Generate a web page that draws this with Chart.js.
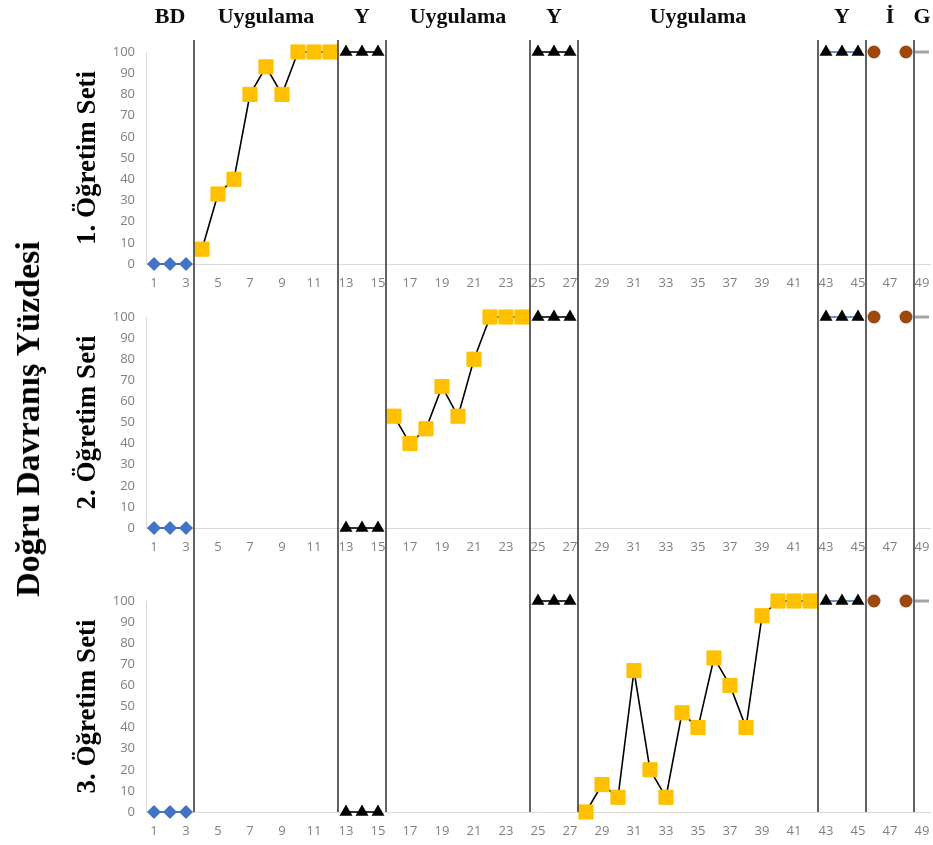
<!DOCTYPE html>
<html lang="tr">
<head>
<meta charset="utf-8">
<title>Doğru Davranış Yüzdesi</title>
<script src="https://cdn.jsdelivr.net/npm/chart.js@4.4.1/dist/chart.umd.min.js"></script>
<style>
  html, body { margin: 0; padding: 0; background: #fff; }
  #wrap { position: relative; width: 933px; height: 845px; overflow: hidden; }
  canvas { position: absolute; left: 0; }
  #chart1 { top: 0; }
  #chart2 { top: 290px; }
  #chart3 { top: 575px; }
  #mainTitle {
    position: absolute; left: 28px; top: 419px;
    transform: translate(-50%, -50%) rotate(-90deg);
    font: bold 34px "Liberation Serif", "DejaVu Serif", serif;
    white-space: nowrap; color: #000;
  }
</style>
</head>
<body>
<div id="wrap">
  <canvas id="chart1" width="941" height="290"></canvas>
  <canvas id="chart2" width="941" height="285"></canvas>
  <canvas id="chart3" width="941" height="270"></canvas>
  <div id="mainTitle">Doğru Davranış Yüzdesi</div>
</div>
<script>
// Sessions on the x axis
const sessions = ['1', '2', '3', '4', '5', '6', '7', '8', '9', '10', '11', '12', '13', '14', '15', '16', '17',
  '18', '19', '20', '21', '22', '23', '24', '25', '26', '27', '28', '29', '30', '31', '32', '33', '34', '35',
  '36', '37', '38', '39', '40', '41', '42', '43', '44', '45', '46', '47', '48', '49'];

// Phases (first and last session of each)
const phaseNames = ['BD', 'Uygulama', 'Y', 'Uygulama', 'Y', 'Uygulama', 'Y', 'İ', 'G'];
const phaseFirst = [1, 4, 13, 16, 25, 28, 43, 46, 49];
const phaseLast = [3, 12, 15, 24, 27, 42, 45, 48, 49];

const panelTitles = ['1. Öğretim Seti', '2. Öğretim Seti', '3. Öğretim Seti'];
const yTicks = [0, 10, 20, 30, 40, 50, 60, 70, 80, 90, 100];

// Session numbers of each run of data
const bdSessions = [1, 2, 3];
const probe1Sessions = [13, 14, 15];
const probe2Sessions = [25, 26, 27];
const probe3Sessions = [43, 44, 45];
const followSessions = [46, 48];
const genSessions = [49];
const set1TeachSessions = [4, 5, 6, 7, 8, 9, 10, 11, 12];
const set2TeachSessions = [16, 17, 18, 19, 20, 21, 22, 23, 24];
const set3TeachSessions = [28, 29, 30, 31, 32, 33, 34, 35, 36, 37, 38, 39, 40, 41, 42];

// 1. Öğretim Seti
const set1Baseline = [0, 0, 0];
const set1Teach = [7, 33, 40, 80, 93, 80, 100, 100, 100];
const set1Probe1 = [100, 100, 100];
const set1Probe2 = [100, 100, 100];
const set1Probe3 = [100, 100, 100];
const set1Follow = [100, 100];
const set1Gen = [100];

// 2. Öğretim Seti
const set2Baseline = [0, 0, 0];
const set2Probe1 = [0, 0, 0];
const set2Teach = [53, 40, 47, 67, 53, 80, 100, 100, 100];
const set2Probe2 = [100, 100, 100];
const set2Probe3 = [100, 100, 100];
const set2Follow = [100, 100];
const set2Gen = [100];

// 3. Öğretim Seti
const set3Baseline = [0, 0, 0];
const set3Probe1 = [0, 0, 0];
const set3Probe2 = [100, 100, 100];
const set3Teach = [0, 13, 7, 67, 20, 7, 47, 40, 73, 60, 40, 93, 100, 100, 100];
const set3Probe3 = [100, 100, 100];
const set3Follow = [100, 100];
const set3Gen = [100];

const serif = '"Liberation Serif", "DejaVu Serif", serif';
const tickColor = '#7f7f7f';

function pts(sess, values) {
  return sess.map((s, i) => ({ x: String(s), y: values[i] }));
}

// Series styles
function baselineSeries(values) {
  return {
    data: pts(bdSessions, values),
    borderColor: '#4472C4', borderWidth: 2,
    pointStyle: 'rectRot', pointRadius: 7,
    pointBackgroundColor: '#4472C4', pointBorderColor: '#4472C4', pointBorderWidth: 0
  };
}

function teachSeries(sess, values) {
  return {
    data: pts(sess, values),
    borderColor: '#000', borderWidth: 1.6,
    pointStyle: 'rect', pointRadius: 10,
    pointBackgroundColor: '#FFC000', pointBorderColor: '#FFC000', pointBorderWidth: 1
  };
}

function probeSeries(sess, values, lineColor) {
  return {
    data: pts(sess, values),
    borderColor: lineColor, borderWidth: 1.6,
    pointStyle: 'triangle', pointRadius: 7.5,
    pointBackgroundColor: '#000', pointBorderColor: '#000', pointBorderWidth: 0
  };
}

function followSeries(values) {
  return {
    data: pts(followSessions, values),
    showLine: false,
    pointStyle: 'circle', pointRadius: 6.5,
    pointBackgroundColor: '#9E480E', pointBorderColor: '#9E480E', pointBorderWidth: 0
  };
}

function genSeries(values) {
  return {
    data: pts(genSessions, values),
    showLine: false,
    pointStyle: 'line', pointRadius: 7,
    pointBorderColor: '#A5A5A5', pointBorderWidth: 3
  };
}

// Phase change lines and phase headers
const phasePlugin = {
  id: 'phaseLines',
  afterDatasetsDraw(chart, args, opts) {
    const xs = chart.scales.x;
    const ctx = chart.ctx;
    const bottom = opts.toAxis ? chart.chartArea.bottom : chart.height;
    ctx.save();
    ctx.strokeStyle = '#3a3a3a';
    ctx.lineWidth = 1.6;
    phaseLast.slice(0, -1).forEach(s => {
      const px = xs.getPixelForValue(s - 0.5);
      ctx.beginPath();
      ctx.moveTo(px, opts.top);
      ctx.lineTo(px, bottom);
      ctx.stroke();
    });
    if (opts.headers) {
      ctx.fillStyle = '#0d0d0d';
      ctx.font = 'bold 22px ' + serif;
      ctx.textAlign = 'center';
      ctx.textBaseline = 'middle';
      phaseNames.forEach((name, i) => {
        const left = xs.getPixelForValue(phaseFirst[i] - 1.5);
        const right = xs.getPixelForValue(phaseLast[i] - 0.5);
        ctx.fillText(name, (left + right) / 2, 17);
      });
    }
    ctx.restore();
  }
};

function makeChart(id, idx, datasets, padTop, xHeight, lineOpts) {
  datasets.forEach(d => { d.clip = false; d.tension = 0; });
  return new Chart(document.getElementById(id), {
    type: 'line',
    data: { labels: sessions, datasets: datasets },
    plugins: [phasePlugin],
    options: {
      responsive: false,
      animation: false,
      layout: { padding: { left: 72, right: 3, top: padTop, bottom: 0 } },
      scales: {
        x: {
          type: 'category',
          offset: true,
          grid: { display: false, drawTicks: false },
          border: { display: true, color: '#d9d9d9', width: 1 },
          ticks: {
            color: tickColor,
            font: { family: '"Open Sans", sans-serif', size: 13 },
            padding: 11,
            autoSkip: false,
            maxRotation: 0,
            minRotation: 0,
            callback: function (value) {
              const s = Number(this.getLabelForValue(value));
              return s % 2 === 1 ? String(s) : '';
            }
          },
          afterFit: s => { s.height = xHeight; s.paddingLeft = 0; s.paddingRight = 0; }
        },
        y: {
          min: 0,
          max: 100,
          grid: { display: false, drawTicks: false },
          border: { display: true, color: '#d9d9d9', width: 1 },
          afterBuildTicks: s => { s.ticks = yTicks.map(v => ({ value: v })); },
          ticks: {
            color: tickColor,
            font: { family: '"Open Sans", sans-serif', size: 13 },
            padding: 11
          },
          title: {
            display: true,
            text: panelTitles[idx],
            color: '#000',
            font: { family: serif, size: 27, weight: 'bold' },
            padding: 0
          },
          afterFit: s => { s.width = 74; s.paddingTop = 0; s.paddingBottom = 0; }
        }
      },
      plugins: {
        legend: { display: false },
        tooltip: { enabled: false },
        phaseLines: lineOpts
      }
    }
  });
}

makeChart('chart1', 0, [
  baselineSeries(set1Baseline),
  teachSeries(set1TeachSessions, set1Teach),
  probeSeries(probe1Sessions, set1Probe1, '#000'),
  probeSeries(probe2Sessions, set1Probe2, '#000'),
  probeSeries(probe3Sessions, set1Probe3, '#4472C4'),
  followSeries(set1Follow),
  genSeries(set1Gen)
], 52, 26, { top: 40, toAxis: false, headers: true });

makeChart('chart2', 1, [
  baselineSeries(set2Baseline),
  probeSeries(probe1Sessions, set2Probe1, '#000'),
  teachSeries(set2TeachSessions, set2Teach),
  probeSeries(probe2Sessions, set2Probe2, '#000'),
  probeSeries(probe3Sessions, set2Probe3, '#4472C4'),
  followSeries(set2Follow),
  genSeries(set2Gen)
], 27, 47, { top: 0, toAxis: false, headers: false });

makeChart('chart3', 2, [
  baselineSeries(set3Baseline),
  probeSeries(probe1Sessions, set3Probe1, '#000'),
  probeSeries(probe2Sessions, set3Probe2, '#000'),
  teachSeries(set3TeachSessions, set3Teach),
  probeSeries(probe3Sessions, set3Probe3, '#4472C4'),
  followSeries(set3Follow),
  genSeries(set3Gen)
], 26, 33, { top: 0, toAxis: true, headers: false });
</script>
</body>
</html>
